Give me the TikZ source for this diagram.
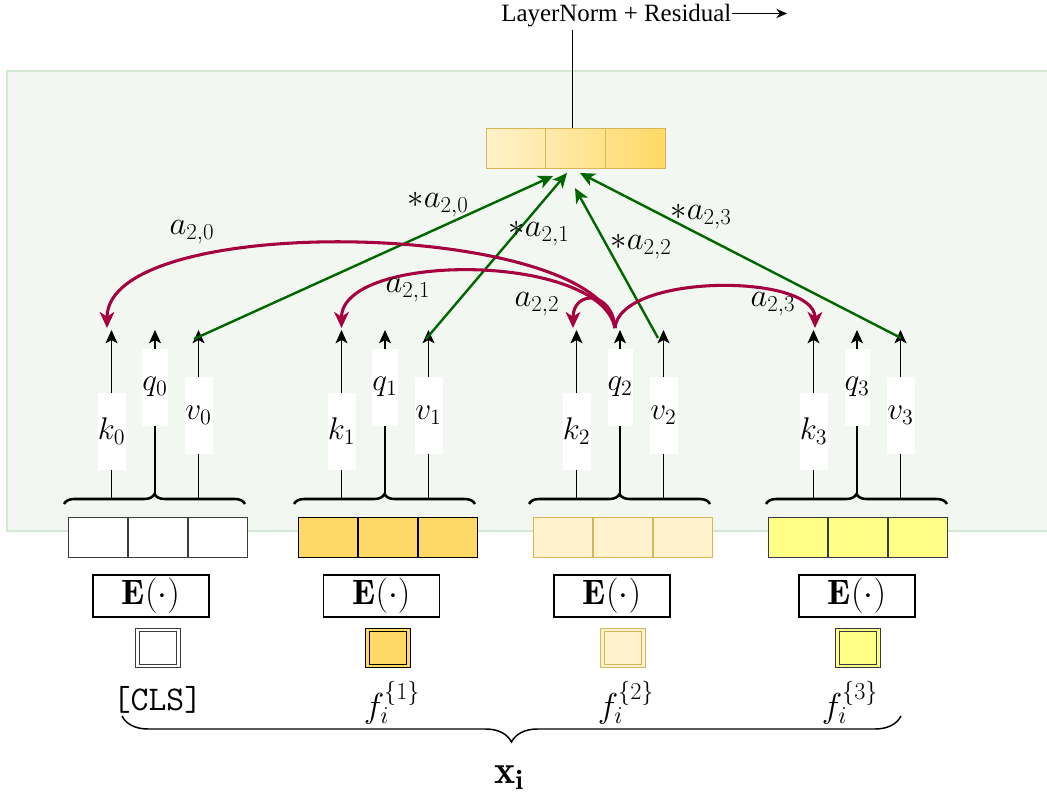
\RequirePackage{fix-cm}
\documentclass[tikz,border=0pt]{standalone}
\usepackage{fontspec}
\newfontfamily\timesfont{Liberation Serif}
\usetikzlibrary{arrows.meta,decorations.pathreplacing,calc}
\definecolor{attncol}{RGB}{165,0,64}
\definecolor{sumcol}{RGB}{0,102,0}
\definecolor{bgfill}{RGB}{242,248,241}
\definecolor{bgline}{RGB}{213,232,212}
\definecolor{goldfill}{RGB}{255,217,102}
\definecolor{creamfill}{RGB}{255,242,204}
\definecolor{creamline}{RGB}{214,182,86}
\definecolor{lemonfill}{RGB}{255,255,136}
\definecolor{slateline}{RGB}{54,57,61}
\definecolor{greyline}{RGB}{60,60,60}
\begin{document}
\begin{tikzpicture}[x=0.75pt,y=-0.75pt,
lbl/.style={inner sep=0pt,font=\fontsize{24.5}{28}\selectfont},
biglbl/.style={inner sep=0pt,font=\fontsize{26}{30}\selectfont},
tagbox/.style={inner sep=0pt,font=\fontsize{23.5}{27}\selectfont,fill=white,minimum height=57.75pt,minimum width=21pt},
qbox/.style={tagbox,minimum width=18.5pt},
kqv/.style={-{Stealth[length=10pt,width=9pt,inset=2.5pt]},line width=0.8pt},
cellrow/.style={draw,line width=0.9pt,minimum width=134.25pt,minimum height=30pt,inner sep=0pt},
embbox/.style={draw,line width=0.9pt,fill=white,minimum width=87pt,minimum height=31.5pt,inner sep=0pt,font=\fontsize{26.5}{30}\selectfont},
tokbox/.style={double distance=1.8pt,line width=0.75pt,minimum width=30.5pt,minimum height=26.8pt,inner sep=0pt},
topbrace/.style={decorate,decoration={brace,amplitude=7.5pt},line width=1.9pt},
xbrace/.style={decorate,decoration={brace,amplitude=19.5pt},line width=1.1pt},
attn/.style={draw=attncol,line width=2.3pt,-{Stealth[length=12pt,width=11pt,inset=3.5pt]}},
wsum/.style={draw=sumcol,line width=1.8pt,-{Stealth[length=11pt,width=10pt,inset=3pt]}}]

\useasboundingbox (0,0) rectangle (1047,795);
\draw[draw=bgline,fill=bgfill,line width=1.1pt] (7,71) rectangle (1055,531);

\foreach \i/\q/\r/\e/\fc/\dc in {0/155/158/151/white/greyline,1/385/388/381.5/goldfill/black,2/620/623/612/creamfill/creamline,3/857/858/857/lemonfill/slateline}{
  \coordinate (kb\i) at ({\q-43.5},499);
  \coordinate (kt\i) at ({\q-43.5},330);
  \coordinate (qb\i) at (\q,494);
  \coordinate (qt\i) at (\q,330);
  \coordinate (vb\i) at ({\q+43.5},499);
  \coordinate (vt\i) at ({\q+43.5},330);
  \draw[kqv] (kb\i) -- (kt\i);
  \draw[kqv] (qb\i) -- (qt\i);
  \draw[kqv] (vb\i) -- (vt\i);
  \node[tagbox] (k\i) at ({\q-43.5},431) {$k_\i$};
  \node[qbox] (q\i) at (\q,387) {$q_\i$};
  \node[tagbox] (v\i) at ({\q+43.5},415) {$v_\i$};
  \draw[topbrace] ({\q-91},504) -- ({\q+90},504);
  \node[cellrow,fill=\fc,draw=\dc] (row\i) at (\r,537.3) {};
  \draw[\dc,line width=0.9pt] ($(row\i.north west)!1/3!(row\i.north east)$) -- ($(row\i.south west)!1/3!(row\i.south east)$);
  \draw[\dc,line width=0.9pt] ($(row\i.north west)!2/3!(row\i.north east)$) -- ($(row\i.south west)!2/3!(row\i.south east)$);
  \node[embbox] (emb\i) at (\e,596) {$\mathbf{E}(\cdot)$};
  \node[tokbox,draw=\dc,double=\fc,fill=\fc] (tok\i) at (\r,648) {};
}

\node[biglbl] (cls) at (157.5,700) {\texttt{[CLS]}};
\foreach \i/\x in {1/392,2/626,3/850}
  \node[biglbl] (f\i) at (\x,703) {$f_i^{\{\i\}}$};
\coordinate (xl) at (122,716);
\coordinate (xr) at (901,716);
\draw[xbrace] (xr) -- (xl);
\node[inner sep=0pt,font=\fontsize{30}{34}\selectfont,anchor=north] (xi) at (509,765) {$\mathbf{x_i}$};

\node[cellrow,draw=creamline,left color=creamfill,right color=goldfill] (agg) at (575.7,148.3) {};
\draw[creamline,line width=0.9pt] ($(agg.north west)!1/3!(agg.north east)$) -- ($(agg.south west)!1/3!(agg.south east)$);
\draw[creamline,line width=0.9pt] ($(agg.north west)!2/3!(agg.north east)$) -- ($(agg.south west)!2/3!(agg.south east)$);
\node[anchor=base west,inner sep=0pt,font=\timesfont\fontsize{18.7}{22}\selectfont] (ln) at (501,21.5) {LayerNorm + Residual};
\coordinate (lnout) at (787,13.5);
\draw[-{Stealth[length=8pt,width=7pt]},line width=1.1pt] (ln.east |- lnout) -- (lnout);
\coordinate (lnfoot) at (572,30);
\draw[line width=0.75pt] (lnfoot) -- (lnfoot |- agg.north);

\foreach \i/\sx/\sy/\tx/\ty/\lx/\ly in {0/194/339/553/176/438/205,1/426/339/567/173/539/234,2/658/338/575/188/641/247,3/901/338/580/173/701/217}{
  \coordinate (gs\i) at (\sx,\sy);
  \coordinate (gt\i) at (\tx,\ty);
  \draw[wsum] (gs\i) -- (gt\i);
  \node[lbl] (wt\i) at (\lx,\ly) {$*a_{2,\i}$};
}

\coordinate (qs) at (615,328);
\coordinate (mk0) at (107,328);
\coordinate (mk1) at (341.5,328);
\coordinate (mk2) at (573,328);
\coordinate (mk3) at (815,328);
\draw[attn] (qs) .. controls +(-15,-108) and +(0,-118) .. (mk0);
\draw[attn] (qs) .. controls +(-15,-76) and +(0,-76) .. (mk1);
\draw[attn] (qs) .. controls +(-3,-38) and +(0,-38) .. (mk2);
\draw[attn] (qs) .. controls +(5,-55) and +(0,-55) .. (mk3);
\node[lbl] (att0) at (192,232) {$a_{2,0}$};
\node[lbl] (att1) at (408,290) {$a_{2,1}$};
\node[lbl] (att2) at (537,304) {$a_{2,2}$};
\node[lbl] (att3) at (773,304) {$a_{2,3}$};

\end{tikzpicture}
\end{document}
